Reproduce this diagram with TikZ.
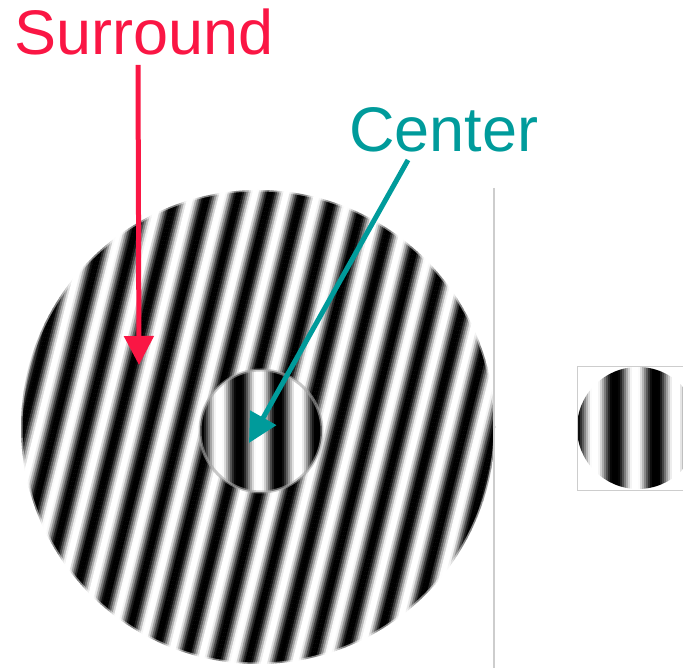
\documentclass[tikz,border=0pt]{standalone}
\usepackage{fontspec}
\setmainfont{Liberation Sans}
\usetikzlibrary{arrows.meta}
\definecolor{surroundred}{RGB}{250,22,68}
\definecolor{centerteal}{RGB}{0,155,155}
\definecolor{rulegray}{RGB}{205,205,205}

\begin{document}
\begin{tikzpicture}[x=1pt, y=1pt,
    lbl/.style={font=\fontsize{63}{70}\selectfont, inner sep=0pt, anchor=base west},
    arrow/.style={-{Triangle[length=29pt, width=29pt]}, line width=5pt},
    edge/.style={draw=black!35, line width=3pt, opacity=0.6}
  ]
  \useasboundingbox (0,0) rectangle (683,668);
  \begin{scope}
  \clip (0,0) rectangle (683,668);

  % --- SURROUND: big disc, tilted grating ---
  \begin{scope}
    \clip (258,241) circle (237);
    \begin{scope}[shift={(258,241)}, rotate=-14]
      \foreach \i in {-250,-248,...,248} {
        \pgfmathsetmacro{\g}{max(0,min(100,50+58*cos((\i+1-16.8)*11.7647)))}
        \fill[black!\g] (\i,-250) rectangle (\i+2.4,250);
      }
    \end{scope}
  \end{scope}
  \draw[white, line width=3pt, opacity=0.5] (258,241) circle (237);

  % --- CENTER: small disc, vertical grating ---
  \begin{scope}
    \clip (261,237) circle (61);
    \fill[white] (261,237) circle (61);
    \foreach \x in {198,200,...,324} {
      \pgfmathsetmacro{\g}{max(0,min(100,50+58*cos((\x+1-239)*9.1139)))}
      \fill[black!\g] (\x,170) rectangle (\x+2.4,305);
    }
  \end{scope}
  \draw[edge] (261,237) circle (61);

  % --- CENTER ALONE: right disc in a box ---
  \begin{scope}
    \clip (638,240) circle (61);
    \fill[white] (638,240) circle (61);
    \foreach \x in {576,578,...,700} {
      \pgfmathsetmacro{\g}{max(0,min(100,50+58*cos((\x+1-615)*8.8889)))}
      \fill[black!\g] (\x,175) rectangle (\x+2.4,305);
    }
  \end{scope}
  \draw[rulegray, line width=1pt] (577,301) rectangle (700,177);

  % --- divider ---
  \draw[rulegray, line width=1.5pt] (494,480) -- (494,0);
  \end{scope}

  % --- LABELS AND ARROWS ---
  \node[lbl, surroundred] (surroundlbl) at (14,613) {Surround};
  \node[lbl, centerteal] (centerlbl) at (349,516) {Center};

  \coordinate (surroundfrom) at (138,603);
  \coordinate (surroundto) at (139,303);
  \coordinate (centerfrom) at (408,508);
  \coordinate (centerto) at (249,225);

  \draw[arrow, surroundred] (surroundfrom) -- (surroundto);
  \draw[arrow, centerteal] (centerfrom) -- (centerto);
\end{tikzpicture}
\end{document}
